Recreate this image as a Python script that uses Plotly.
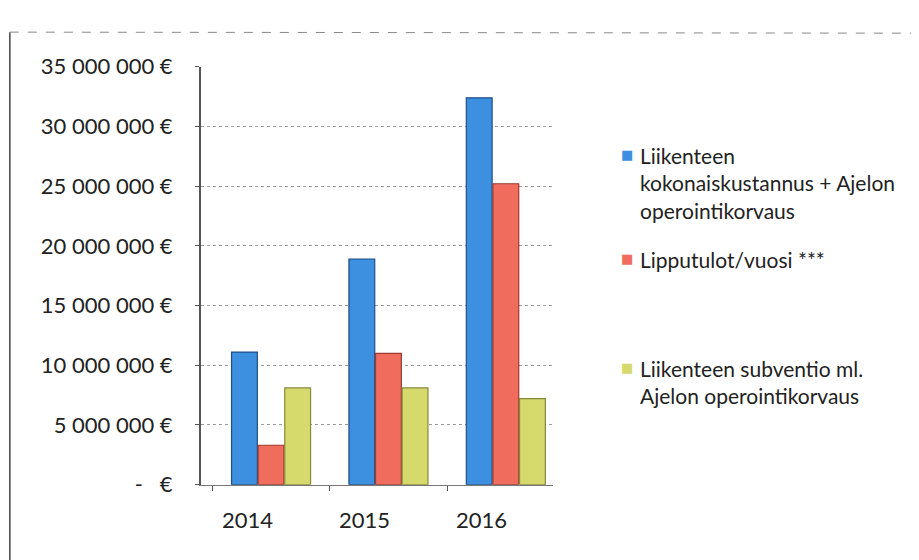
import plotly.graph_objects as go

years = ["2014", "2015", "2016"]
series_names = [
    "Liikenteen<br>kokonaiskustannus + Ajelon<br>operointikorvaus",
    "Lipputulot/vuosi ***",
    "Liikenteen subventio ml.<br>Ajelon operointikorvaus",
]
kokonaiskustannus = [11100000, 18900000, 32400000]
lipputulot = [3300000, 11000000, 25200000]
subventio = [8100000, 8100000, 7200000]
tick_values = [0, 5000000, 10000000, 15000000, 20000000, 25000000, 30000000, 35000000]
tick_labels = ["-   €", "5 000 000\u202f€", "10 000 000\u202f€", "15 000 000\u202f€", "20 000 000\u202f€",
               "25 000 000\u202f€", "30 000 000\u202f€", "35 000 000\u202f€"]

colors = ["#3d8fe0", "#f06d5e", "#d6d96c"]
edges = ["#1f4f86", "#9b3a30", "#86883a"]
series = [kokonaiskustannus, lipputulot, subventio]

fig = go.Figure()
for name, vals, c, e in zip(series_names, series, colors, edges):
    fig.add_trace(go.Bar(x=years, y=vals, name=name,
                         marker=dict(color=c, line=dict(color=e, width=1.2)),
                         showlegend=False))

FONT = "Lato, Open Sans, sans-serif"
fig.update_layout(
    width=919, height=560,
    margin=dict(l=0, r=0, t=0, b=0),
    paper_bgcolor="white", plot_bgcolor="white",
    barmode="group", bargap=0.32, bargroupgap=0.03,
    font=dict(family=FONT, size=20, color="#222222"),
    xaxis=dict(domain=[0.2096, 0.5928], type="category", range=[-0.6, 2.4],
               showgrid=False, showline=True, linecolor="#777777", linewidth=1,
               ticks="outside", tickson="boundaries", ticklen=5, tickcolor="#555555",
               showticklabels=False),
    yaxis=dict(domain=[0.132, 0.916], range=[0, 35000000], tickvals=tick_values, ticktext=tick_labels,
               showgrid=True, gridcolor="#9a9a9a", griddash="dot", gridwidth=1,
               showline=True, linecolor="#555555", linewidth=1.5,
               ticks="outside", ticklen=4, tickcolor="#555555",
               tickfont=dict(size=22, color="#222222"), ticklabelstandoff=18, zeroline=False),
)

# category labels (on the category axis, shifted left like the perspective labels)
for i, yr in enumerate(years):
    fig.add_annotation(x=i, xref="x", yref="paper", y=0.067, yanchor="middle",
                       text=yr, showarrow=False, xshift=-24,
                       font=dict(size=22, color="#222222", family=FONT))

# legend as annotations
square_y = [0.751, 0.556, 0.352]
text_y = [0.776, 0.581, 0.377]
for name, c, ys, yt in zip(series_names, colors, square_y, text_y):
    fig.add_annotation(xref="paper", yref="paper", x=0.665, y=ys, xanchor="left", yanchor="middle",
                       text="■", showarrow=False, font=dict(size=13, color=c, family="DejaVu Sans"))
    fig.add_annotation(xref="paper", yref="paper", x=0.685, y=yt, xanchor="left", yanchor="top",
                       align="left", text=name, showarrow=False,
                       font=dict(size=21, color="#222222", family=FONT))

# frame lines of the scanned page
fig.add_shape(type="line", xref="paper", yref="paper", x0=0.002, x1=0.002, y0=-0.05, y1=0.981,
              line=dict(color="#444444", width=1.5))
fig.add_shape(type="line", xref="paper", yref="paper", x0=0.002, x1=1, y0=0.981, y1=0.979,
              line=dict(color="#888888", width=1, dash="dash"))

fig.write_html("out.html")
